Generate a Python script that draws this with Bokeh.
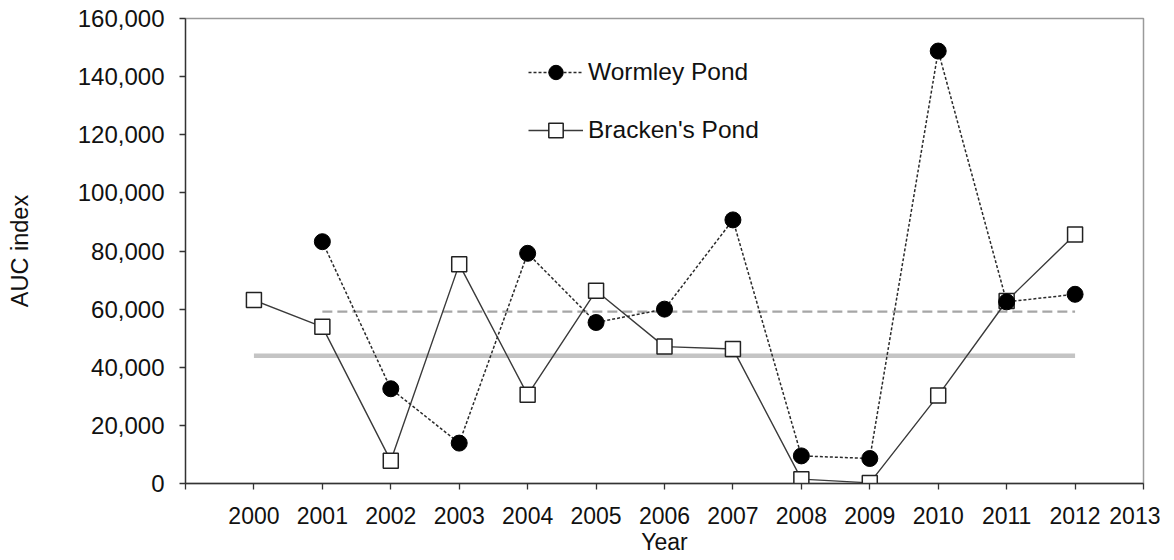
from bokeh.plotting import figure
from bokeh.models import (FixedTicker, NumeralTickFormatter, Legend, LegendItem,
                          Range1d, ColumnDataSource)
from bokeh.embed import file_html
from bokeh.resources import INLINE

# ---- data ----
wormley_years = [2001, 2002, 2003, 2004, 2005, 2006, 2007, 2008, 2009, 2010, 2011, 2012]
wormley_auc = [83200, 32600, 13900, 79200, 55400, 60000, 90700, 9500, 8600, 148800, 62500, 65100]

bracken_years = [2000, 2001, 2002, 2003, 2004, 2005, 2006, 2007, 2008, 2009, 2010, 2011, 2012]
bracken_auc = [63100, 53900, 7800, 75400, 30500, 66300, 47100, 46300, 1500, 200, 30300, 62800, 85700]

x_tick_values = list(range(1999, 2014))
x_tick_labels = [""] + [str(y) for y in range(2000, 2014)]
y_tick_values = [0, 20000, 40000, 60000, 80000, 100000, 120000, 140000, 160000]

series_names = ["Wormley Pond", "Bracken's Pond"]
x_title = "Year"
y_title = "AUC index"

wormley_mean = sum(wormley_auc) / len(wormley_auc)
bracken_mean = sum(bracken_auc) / len(bracken_auc)

FONT = "Liberation Sans"
TXT = "#111111"

p = figure(width=1160, height=560, output_backend="svg", toolbar_location=None,
           x_range=Range1d(x_tick_values[0], x_tick_values[-1]),
           y_range=Range1d(y_tick_values[0], y_tick_values[-1]),
           min_border_left=185, min_border_right=17, min_border_top=18, min_border_bottom=77,
           background_fill_color="white", border_fill_color="white")

p.grid.visible = False
p.outline_line_color = "#9a9a9a"
p.outline_line_width = 1.5

# mean lines
p.line([wormley_years[0], wormley_years[-1]], [wormley_mean, wormley_mean],
       line_color="#a6a6a6", line_width=2.2, line_dash="10 5")
p.line([bracken_years[0], bracken_years[-1]], [bracken_mean, bracken_mean],
       line_color="#c4c4c4", line_width=4.5)

src_b = ColumnDataSource(dict(x=bracken_years, y=bracken_auc))
src_w = ColumnDataSource(dict(x=wormley_years, y=wormley_auc))

b_line = p.line("x", "y", source=src_b, line_color="#3a3a3a", line_width=1.4)
b_mark = p.scatter("x", "y", source=src_b, marker="square", size=15,
                   fill_color="white", line_color="#222222", line_width=1.5)

w_line = p.line("x", "y", source=src_w, line_color="#2a2a2a", line_width=1.5, line_dash="3 2")
w_mark = p.scatter("x", "y", source=src_w, marker="circle", size=16,
                   fill_color="black", line_color="black")

legend = Legend(items=[LegendItem(label=series_names[0], renderers=[w_line, w_mark]),
                       LegendItem(label=series_names[1], renderers=[b_line, b_mark])],
                location=(343, 335), orientation="vertical",
                glyph_width=55, glyph_height=36, label_height=36, spacing=22,
                label_standoff=5, padding=0, margin=0,
                border_line_alpha=0, background_fill_alpha=0,
                label_text_font=FONT, label_text_font_size="24.5px", label_text_color=TXT)
p.add_layout(legend)

# axes
for ax in (p.xaxis[0], p.yaxis[0]):
    ax.axis_line_color = "#333333"
    ax.axis_line_width = 1.3
    ax.major_tick_line_color = "#333333"
    ax.major_tick_line_width = 1.3
    ax.major_tick_in = 0
    ax.major_tick_out = 6
    ax.minor_tick_line_color = None
    ax.major_label_text_font = FONT
    ax.major_label_text_color = TXT
    ax.axis_label_text_font = FONT
    ax.axis_label_text_font_style = "normal"
    ax.axis_label_text_color = TXT

p.xaxis.ticker = FixedTicker(ticks=x_tick_values)
p.xaxis.major_label_overrides = {v: lab for v, lab in zip(x_tick_values, x_tick_labels)}
p.xaxis.major_label_text_font_size = "23px"
p.xaxis.major_label_standoff = 17
p.xaxis.axis_label = x_title
p.xaxis.axis_label_text_font_size = "23px"
p.xaxis.axis_label_standoff = 2

p.yaxis.ticker = FixedTicker(ticks=y_tick_values)
p.yaxis.formatter = NumeralTickFormatter(format="0,0")
p.yaxis.major_label_text_font_size = "24px"
p.yaxis.major_label_standoff = 15
p.yaxis.axis_label = y_title
p.yaxis.axis_label_text_font_size = "23.5px"
p.yaxis.axis_label_standoff = 42

open("out.html", "w").write(file_html(p, INLINE))
